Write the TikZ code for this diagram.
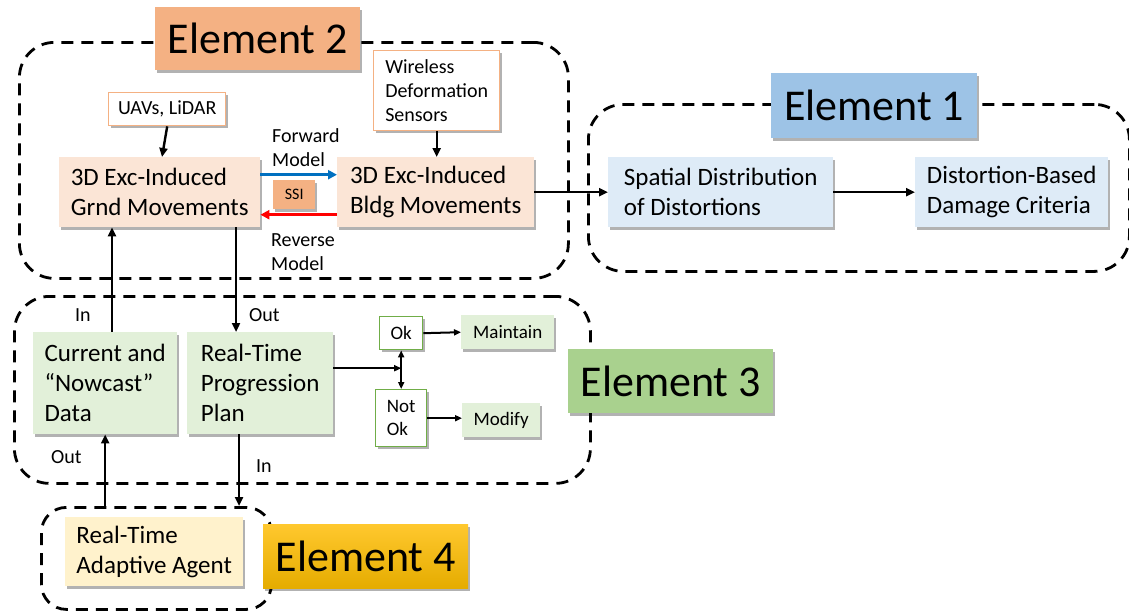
\documentclass[tikz,border=0pt]{standalone}
\usepackage{fontspec}
\setmainfont{Carlito}
\usetikzlibrary{arrows.meta,shadows}
\definecolor{peach}{HTML}{FBE5D6}
\definecolor{orangelab}{HTML}{F4B183}
\definecolor{bluelab}{HTML}{9DC3E6}
\definecolor{bluebox}{HTML}{DEEBF7}
\definecolor{greenlab}{HTML}{A9D18E}
\definecolor{greenbox}{HTML}{E2F0D9}
\definecolor{greenline}{HTML}{70AD47}
\definecolor{agentbox}{HTML}{FFF2CC}
\definecolor{goldtop}{HTML}{FFC82E}
\definecolor{goldbot}{HTML}{E5AC00}
\definecolor{fwdblue}{HTML}{0070C0}
\definecolor{revred}{HTML}{FF0000}
\begin{document}
\begin{tikzpicture}[x=1pt,y=-1pt,
  shd/.style={drop shadow={shadow xshift=2pt,shadow yshift=-2.5pt,fill=black,opacity=0.3}},
  region/.style={draw=black,line width=2.8pt,dash pattern=on 12pt off 8pt,rounded corners=35pt,fill=none,anchor=north west,inner sep=0pt},
  boxnode/.style={fill=#1,anchor=north west,inner sep=0pt,align=left,font=\fontsize{25}{30}\selectfont,shd},
  elabel/.style={fill=#1,anchor=north west,inner sep=0pt,align=center,font=\fontsize{44}{50}\selectfont,shd},
  smallbox/.style={draw=#1,line width=1.4pt,fill=white,anchor=north west,inner sep=0pt,font=\fontsize{20}{24}\selectfont,shd},
  tinybox/.style={fill=#1,anchor=north west,inner sep=0pt,font=\fontsize{19}{23}\selectfont,shd},
  lbl/.style={inner sep=0pt,font=\fontsize{20}{24}\selectfont},
  arr/.style={line width=2.4pt,-{Triangle[length=9pt,width=8pt]}},
  thinarr/.style={line width=2pt,-{Triangle[length=7pt,width=6pt]}},
]
\useasboundingbox (0,0) rectangle (1129,613);
\fill[white] (0,0) rectangle (1129,613);

% dashed regions
\node[region,minimum width=549pt,minimum height=236pt] (r2) at (18,41) {};
\node[region,minimum width=541pt,minimum height=167pt] (r1) at (587,103) {};
\node[region,minimum width=576pt,minimum height=187pt] (r3) at (13,295) {};
\node[region,rounded corners=25pt,minimum width=230pt,minimum height=102pt] (r4) at (40,506) {};

% element labels
\node[elabel=orangelab,minimum width=205pt,minimum height=63pt] (e2) at (155,7) {Element 2};
\node[elabel=bluelab,minimum width=206pt,minimum height=65pt] (e1) at (771,73) {Element 1};
\node[elabel=greenlab,minimum width=205pt,minimum height=64pt] (e3) at (568,349) {Element 3};
\node[anchor=north west,inner sep=0pt,font=\fontsize{44}{50}\selectfont,top color=goldtop,bottom color=goldbot,shd,minimum width=205pt,minimum height=64pt] (e4) at (263,524) {Element 4};

% element 2 boxes
\node[boxnode=peach,minimum width=201pt,minimum height=70pt] (grnd) at (59,157) {3D Exc-Induced\\Grnd Movements};
\node[boxnode=peach,minimum width=197pt,minimum height=70pt] (bldg) at (337,157) {3D Exc-Induced\\Bldg Movements};
\node[smallbox=orangelab,minimum width=117pt,minimum height=33pt] (uav) at (108,92) {UAVs, LiDAR};
\node[smallbox=orangelab,minimum width=126pt,minimum height=80pt,align=left] (wire) at (373,50) {Wireless\\Deformation\\Sensors};
\node[fill=orangelab,anchor=north west,inner sep=0pt,minimum width=42pt,minimum height=29pt,font=\fontsize{16}{19}\selectfont,shd] (ssi) at (273,180) {SSI};
\node[lbl,anchor=north west,align=left] (fwd) at (272,128) {Forward\\Model};
\node[lbl,anchor=north west,align=left] (rev) at (271,233) {Reverse\\Model};

% element 1 boxes
\node[boxnode=bluebox,minimum width=225pt,minimum height=70pt] (spat) at (608,157) {Spatial Distribution\\of Distortions};
\node[boxnode=bluebox,minimum width=193pt,minimum height=70pt] (dmg) at (915,157) {Distortion-Based\\Damage Criteria};

% element 3 boxes
\node[boxnode=greenbox,minimum width=144pt,minimum height=102pt] (cur) at (33,332) {Current and\\``Nowcast''\\Data};
\node[boxnode=greenbox,minimum width=146pt,minimum height=102pt] (plan) at (187,332) {Real-Time\\Progression\\Plan};
\node[smallbox=greenline,minimum width=43pt,minimum height=33pt,font=\fontsize{19}{23}\selectfont] (ok) at (379,316) {Ok};
\node[smallbox=greenline,minimum width=51pt,minimum height=57pt,align=left,font=\fontsize{19}{23}\selectfont] (nok) at (375,389) {Not\\Ok};
\node[tinybox=greenbox,minimum width=93pt,minimum height=34pt] (mnt) at (461,315) {Maintain};
\node[tinybox=greenbox,minimum width=78pt,minimum height=34pt] (mod) at (462,403) {Modify};

% element 4 box
\node[boxnode=agentbox,minimum width=178pt,minimum height=69pt] (agent) at (65,517) {Real-Time\\Adaptive Agent};

% in / out labels
\node[lbl,anchor=base west] (in1) at (75,321) {In};
\node[lbl,anchor=base west] (out1) at (249,321) {Out};
\node[lbl,anchor=base west] (out2) at (51,463) {Out};
\node[lbl,anchor=base west] (in2) at (256,472) {In};

% helper x positions
\coordinate (xin) at (112,0);
\coordinate (xout) at (236,0);
\coordinate (xuav) at (162,0);
\coordinate (xdown) at (239,0);

% connectors
\draw[arr] (uav.south) -- (grnd.north -| xuav);
\draw[arr] (wire.south) -- (wire.south |- bldg.north);
\draw[arr,line width=2.8pt,draw=fwdblue,-{Triangle[length=9pt,width=9pt]},fill=fwdblue] ([yshift=17.5pt]grnd.east) -- ([yshift=17.5pt]bldg.west);
\draw[arr,line width=2.8pt,draw=revred,-{Triangle[length=9pt,width=9pt]},fill=revred] ([yshift=-22.5pt]bldg.west) -- ([yshift=-22.5pt]grnd.east);
\draw[arr] (bldg.east) -- (spat.west);
\draw[arr] (spat.east) -- (dmg.west);
\draw[arr] (cur.north -| xin) -- (grnd.south -| xin);
\draw[arr] (grnd.south -| xout) -- (plan.north -| xout);
\draw[arr] (r4.north -| cur.south) -- (cur.south);
\draw[arr] (plan.south -| xdown) -- (r4.north -| xdown);
\draw[thinarr] ([yshift=15pt]plan.east) -- ([yshift=15pt]plan.east -| ok.south);
\draw[thinarr,{Triangle[length=7pt,width=6pt]}-{Triangle[length=7pt,width=6pt]}] (ok.south) -- (nok.north);
\draw[thinarr] (ok.east) -- (mnt.west);
\draw[thinarr] (nok.east) -- (nok.east -| mod.west);
\end{tikzpicture}
\end{document}
